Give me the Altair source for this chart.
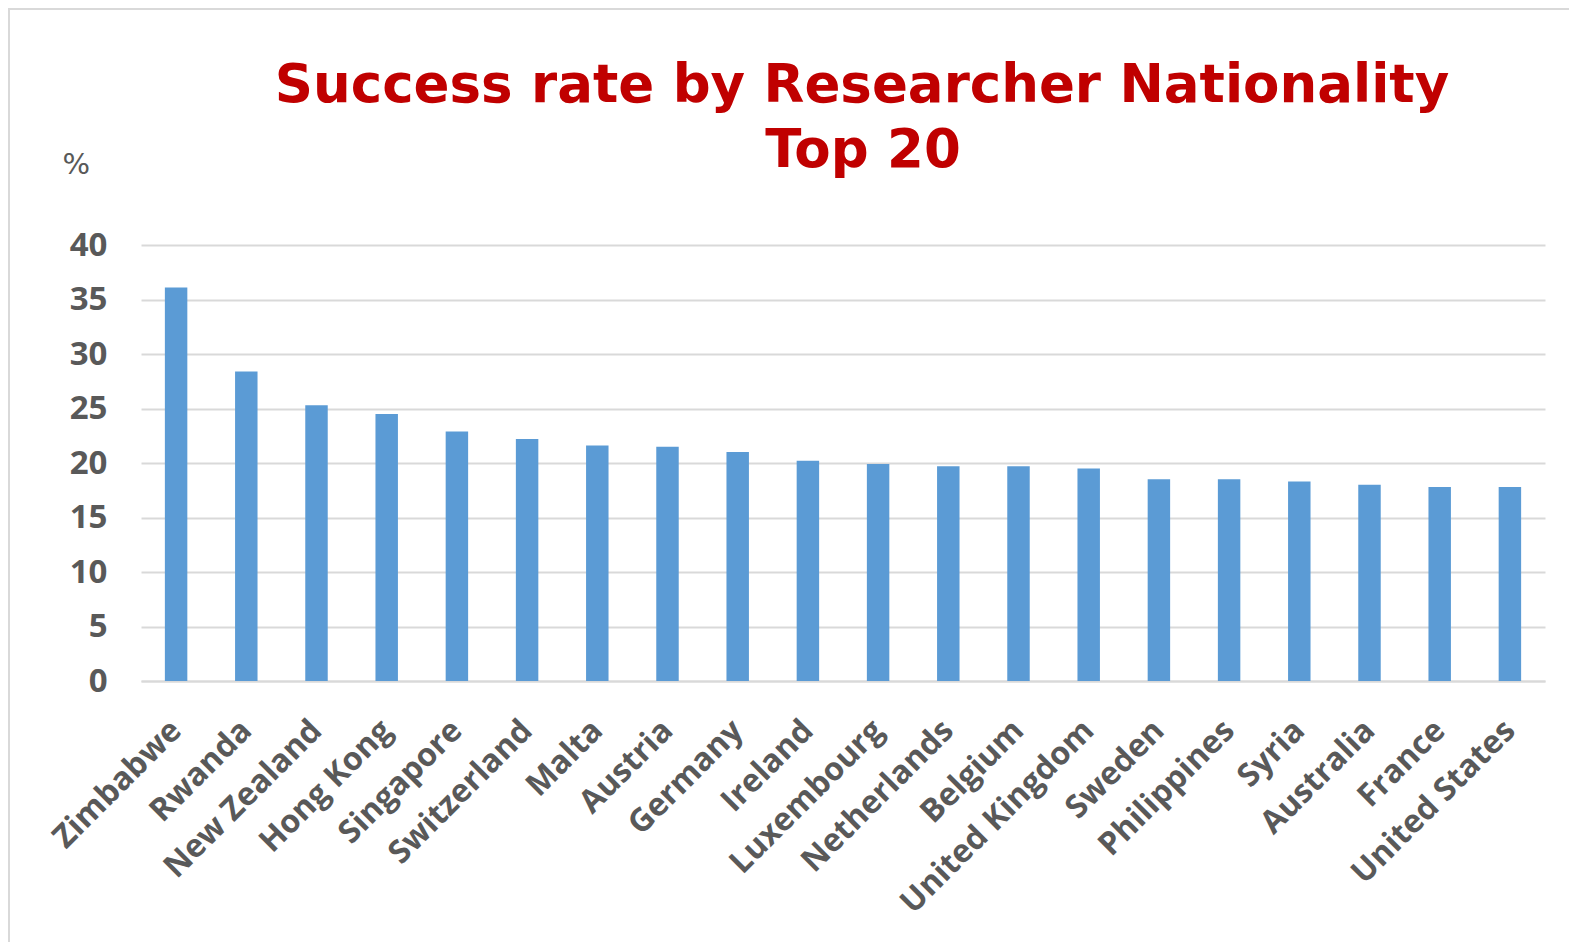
import altair as alt
import pandas as pd

countries = ["Zimbabwe", "Rwanda", "New Zealand", "Hong Kong", "Singapore", "Switzerland",
             "Malta", "Austria", "Germany", "Ireland", "Luxembourg", "Netherlands", "Belgium",
             "United Kingdom", "Sweden", "Philippines", "Syria", "Australia", "France", "United States"]
rates = [36.1, 28.4, 25.3, 24.5, 22.9, 22.2, 21.6, 21.5, 21.0, 20.2, 19.9, 19.7, 19.7,
         19.5, 18.5, 18.5, 18.3, 18.0, 17.8, 17.8]
y_ticks = [0, 5, 10, 15, 20, 25, 30, 35, 40]
title_lines = ["Success rate by Researcher Nationality", "Top 20"]

df = pd.DataFrame({"country": countries, "rate": rates})
one = pd.DataFrame({"k": [0]})

bars = alt.Chart(df).mark_bar(color="#5B9BD5").encode(
    x=alt.X("country:N", sort=countries,
            scale=alt.Scale(paddingInner=0.68, paddingOuter=0.34),
            axis=alt.Axis(title=None, labelAngle=-45, labelAlign="right", labelBaseline="middle",
                          labelFont="Open Sans", labelFontWeight="bold", labelFontSize=32,
                          labelColor="#595959", labelPadding=44, ticks=False,
                          domainColor="#D9D9D9", domainWidth=2, labelLimit=400)),
    y=alt.Y("rate:Q", scale=alt.Scale(domain=[0, 40], nice=False),
            axis=alt.Axis(values=y_ticks, title="%", titleAngle=0, titleAlign="left",
                          titleBaseline="alphabetic", titleX=-79, titleY=-72,
                          titleFont="DejaVu Sans", titleFontWeight="normal", titleFontSize=29,
                          titleColor="#595959",
                          labelFont="Open Sans", labelFontWeight="bold", labelFontSize=33,
                          labelColor="#595959", labelPadding=34, ticks=False, domain=False,
                          gridColor="#D9D9D9", gridWidth=2)),
)

frame_left = alt.Chart(one).mark_rule(color="#D9D9D9", strokeWidth=2).encode(
    x=alt.value(-132), y=alt.value(-237), y2=alt.value(720))
frame_top = alt.Chart(one).mark_rule(color="#D9D9D9", strokeWidth=2).encode(
    x=alt.value(-132), x2=alt.value(1440), y=alt.value(-236))

title1 = alt.Chart(one).mark_text(
    text=title_lines[0], font="DejaVu Sans", fontWeight="bold", fontSize=53,
    color="#C00000", align="center", baseline="alphabetic").encode(
    x=alt.value(721), y=alt.value(-143))
title2 = alt.Chart(one).mark_text(
    text=title_lines[1], font="DejaVu Sans", fontWeight="bold", fontSize=53,
    color="#C00000", align="center", baseline="alphabetic").encode(
    x=alt.value(722), y=alt.value(-78))

chart = alt.layer(frame_left, frame_top, title1, title2, bars).properties(
    width=1404, height=436,
    autosize=alt.AutoSizeParams(type="none"),
    padding={"left": 133, "top": 237, "right": 24, "bottom": 261},
).configure_view(stroke=None)

chart.save("out.html", embed_options={"renderer": "svg", "actions": False})
